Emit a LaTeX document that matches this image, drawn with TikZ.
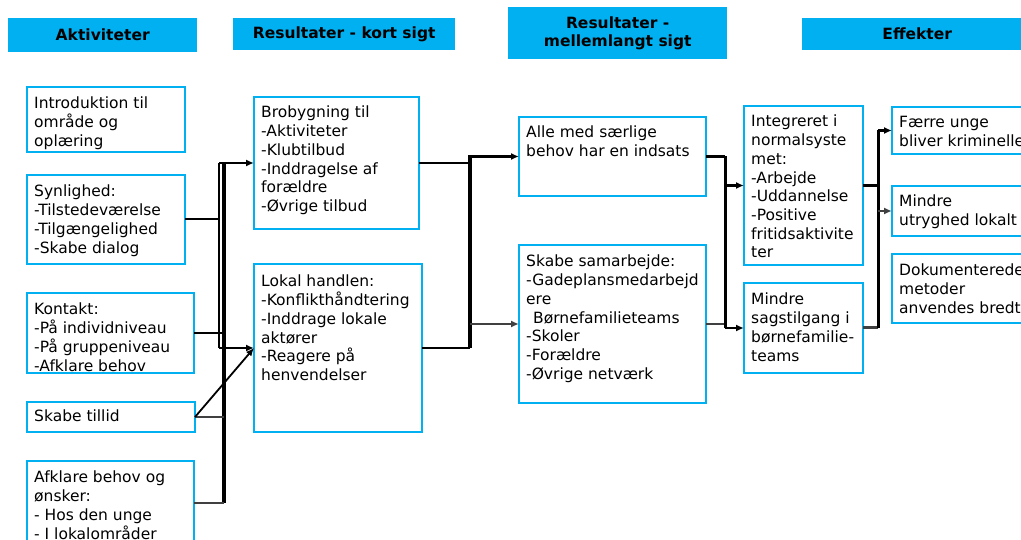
\documentclass[tikz,border=0pt]{standalone}
\usepackage{fontspec}
\setmainfont{DejaVu Sans}
\usetikzlibrary{calc,arrows.meta}
\definecolor{hdr}{HTML}{00B0F0}
\definecolor{dgray}{HTML}{404040}
\begin{document}
\begin{tikzpicture}[x=1pt,y=-1pt,
  box/.style={draw=hdr, line width=1.8pt, anchor=north west, inner sep=0pt, outer sep=0pt},
  hbox/.style={fill=hdr, anchor=north west, inner sep=0pt, align=center,
    font=\bfseries\fontsize{15.5}{18}\selectfont},
  txt/.style={anchor=north west, inner sep=0pt, align=left,
    font=\fontsize{15.5}{18.7}\selectfont},
  bus/.style={line width=3.5pt},
  thinbus/.style={line width=1.6pt},
  con/.style={line width=2.5pt},
  gcon/.style={line width=2.2pt, draw=dgray},
  tip/.style={-{Latex[length=8pt,width=7pt]}},
  arr/.style={line width=2.5pt, tip}]
\useasboundingbox (0,0) rectangle (1021,540);
\clip (0,0) rectangle (1021,540);

% headers
\node[hbox, minimum width=189pt, minimum height=34pt] (h1) at (8,18) {Aktiviteter};
\node[hbox, minimum width=222pt, minimum height=32pt] (h2) at (233,18) {Resultater - kort sigt};
\node[hbox, minimum width=219pt, minimum height=52pt] (h3) at (508,7) {Resultater -\\mellemlangt sigt};
\node[hbox, minimum width=230pt, minimum height=32pt] (h4) at (802,18) {Effekter};

% boxes
\node[box, minimum width=158pt, minimum height=65pt] (intro) at (27,87) {};
\node[box, minimum width=158pt, minimum height=89pt] (syn) at (27,175) {};
\node[box, minimum width=167pt, minimum height=80pt] (kon) at (27,293) {};
\node[box, minimum width=168pt, minimum height=30pt] (til) at (27,402) {};
\node[box, minimum width=167pt, minimum height=84pt] (afk) at (27,461) {};
\node[box, minimum width=165pt, minimum height=132pt] (bro) at (254,97) {};
\node[box, minimum width=168pt, minimum height=168pt] (lok) at (254,264) {};
\node[box, minimum width=187pt, minimum height=79pt] (alle) at (519,117) {};
\node[box, minimum width=187pt, minimum height=158pt] (sam) at (519,245) {};
\node[box, minimum width=119pt, minimum height=159pt] (int) at (744,106) {};
\node[box, minimum width=119pt, minimum height=90pt] (mis) at (744,283) {};
\node[box, minimum width=150pt, minimum height=47pt] (faer) at (892,107) {};
\node[box, minimum width=150pt, minimum height=50pt] (utr) at (892,186) {};
\node[box, minimum width=150pt, minimum height=69pt] (dok) at (892,254) {};

% texts
\node[txt] (intro-t) at ($(intro.north west)+(7,10)$) {Introduktion til\\område og\\oplæring};
\node[txt] (syn-t) at ($(syn.north west)+(7,10)$) {Synlighed:\\-Tilstedeværelse\\-Tilgængelighed\\-Skabe dialog};
\begin{scope}
\clip (27,293) rectangle (194,372);
\node[txt] (kon-t) at ($(kon.north west)+(7,10)$) {Kontakt:\\-På individniveau\\-På gruppeniveau\\-Afklare behov};
\end{scope}
\node[txt] (til-t) at ($(til.north west)+(7,8)$) {Skabe tillid};
\node[txt] (afk-t) at ($(afk.north west)+(7,10)$) {Afklare behov og\\ønsker:\\- Hos den unge\\- I lokalområder};
\node[txt] (bro-t) at ($(bro.north west)+(7,9)$) {Brobygning til\\-Aktiviteter\\-Klubtilbud\\-Inddragelse af\\forældre\\-Øvrige tilbud};
\node[txt] (lok-t) at ($(lok.north west)+(7,11)$) {Lokal handlen:\\-Konflikthåndtering\\-Inddrage lokale\\aktører\\-Reagere på\\henvendelser};
\node[txt] (alle-t) at ($(alle.north west)+(7,9)$) {Alle med særlige\\behov har en indsats};
\node[txt] (sam-t) at ($(sam.north west)+(7,10)$) {Skabe samarbejde:\\-Gadeplansmedarbejd\\ere\\\hspace*{7pt}Børnefamilieteams\\-Skoler\\-Forældre\\-Øvrige netværk};
\node[txt] (int-t) at ($(int.north west)+(7,9)$) {Integreret i\\normalsyste\\met:\\-Arbejde\\-Uddannelse\\-Positive\\fritidsaktivite\\ter};
\node[txt] (mis-t) at ($(mis.north west)+(7,10)$) {Mindre\\sagstilgang i\\børnefamilie-\\teams};
\node[txt] (faer-t) at ($(faer.north west)+(7,9)$) {Færre unge\\bliver kriminelle};
\node[txt] (utr-t) at ($(utr.north west)+(7,9)$) {Mindre\\utryghed lokalt};
\node[txt] (dok-t) at ($(dok.north west)+(7,10)$) {Dokumenterede\\metoder\\anvendes bredt};

% bus coordinates
\coordinate (bA) at (219,0);
\coordinate (bB) at (224,0);
\coordinate (bC) at (470,0);
\coordinate (bD) at (725,0);
\coordinate (bE) at (878,0);

% left bus
\draw[bus] ($(bro.west -| bB)+(0,1)$) -- (afk.east -| bB);
\draw[thinbus] (lok.west -| bA) -- (bro.west -| bA);
\draw[arr, line width=2pt] (bro.west -| bA) -- (bro.west);
\draw[arr, line width=2pt] (lok.west -| bA) -- (lok.west);
\draw[con, line width=2pt] (syn.east) -- (syn.east -| bA);
\draw[con] (kon.east) -- (kon.east -| bB);
\draw[gcon, line width=1.8pt] (til.east) -- (til.east -| bB);
\draw[arr, line width=1.8pt] (til.east) -- (lok.west);
\draw[gcon] (afk.east) -- (afk.east -| bB);

% middle bus
\draw[con] (bro.east) -- (bro.east -| bC);
\draw[bus] ($(alle.west -| bC)+(0,-1)$) -- (lok.east -| bC);
\draw[con] (lok.east) -- (lok.east -| bC);
\draw[arr, line width=2.2pt] (alle.west -| bC) -- (alle.west);
\draw[arr, line width=2.2pt, dgray] (sam.west -| bC) -- (sam.west);

% right bus 1
\draw[con] (alle.east) -- (alle.east -| bD);
\draw[gcon] (sam.east) -- (sam.east -| bD);
\draw[bus, line width=3pt] (alle.east -| bD) -- (mis.west -| bD);
\draw[arr] (int.west -| bD) -- (int.west);
\draw[arr] (mis.west -| bD) -- (mis.west);

% right bus 2
\draw[con, line width=3pt] (int.east) -- (int.east -| bE);
\draw[con, line width=3pt, dgray] (mis.east) -- (mis.east -| bE);
\draw[bus, line width=3pt] (faer.west -| bE) -- (mis.east -| bE);
\draw[arr] (faer.west -| bE) -- (faer.west);
\draw[arr, dgray] (utr.west -| bE) -- (utr.west);
\end{tikzpicture}
\end{document}
